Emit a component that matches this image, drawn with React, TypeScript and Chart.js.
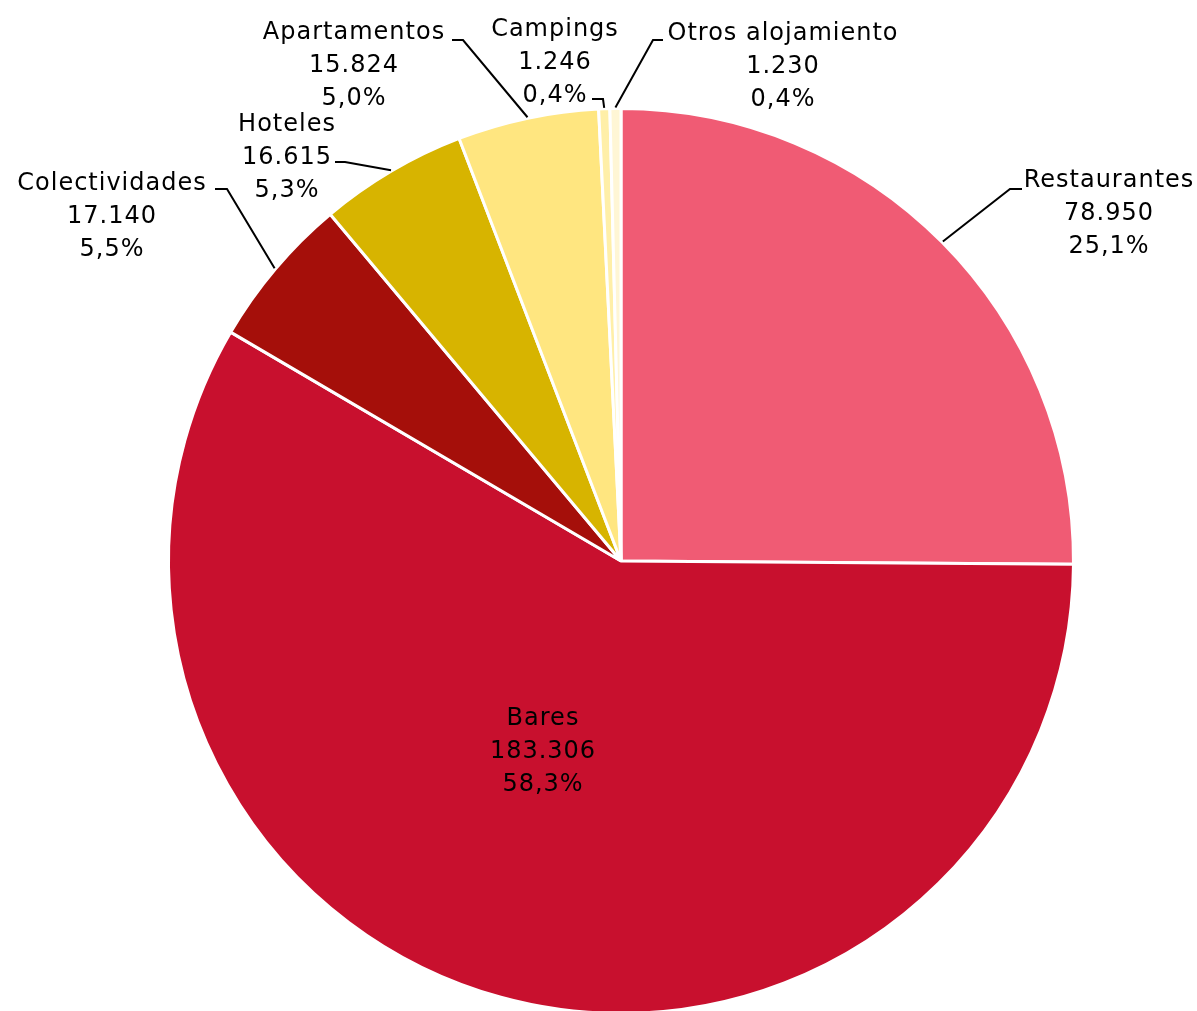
import React, { useEffect, useRef } from "react";
import { Chart, registerables } from "chart.js";

Chart.register(...registerables);

const categories = [
  "Restaurantes",
  "Bares",
  "Colectividades",
  "Hoteles",
  "Apartamentos",
  "Campings",
  "Otros alojamiento",
];
const valueLabels = ["78.950", "183.306", "17.140", "16.615", "15.824", "1.246", "1.230"];
const values = [78950, 183306, 17140, 16615, 15824, 1246, 1230];
const percentLabels = ["25,1%", "58,3%", "5,5%", "5,3%", "5,0%", "0,4%", "0,4%"];
const colors = ["#F05B74", "#C8102E", "#A50F0A", "#D7B400", "#FFE680", "#FFEFA8", "#FFF6D5"];

// Label layout (offsets from the pie centre, in px): text centre x, first-line y,
// leader elbow and leader end. No leader = label drawn inside the slice.
type Layout = { tx: number; ty: number; elbow?: [number, number]; end?: [number, number] };
const layouts: Layout[] = [
  { tx: 488, ty: -380, elbow: [389, -372], end: [401, -372] },
  { tx: -78, ty: 158 },
  { tx: -509, ty: -377, elbow: [-394, -372], end: [-406, -372] },
  { tx: -334, ty: -436, elbow: [-276, -399], end: [-286, -399] },
  { tx: -267, ty: -528, elbow: [-158, -521], end: [-169, -521] },
  { tx: -66, ty: -531, elbow: [-18, -462], end: [-29, -462] },
  { tx: 162, ty: -527, elbow: [32, -521], end: [42, -521] },
];

const LINE_H = 33;
const FONT = '24px "DejaVu Sans"';

const labelPlugin = {
  id: "pieLabels",
  afterDatasetsDraw(chart: any) {
    const ctx = chart.ctx;
    const meta = chart.getDatasetMeta(0);
    ctx.save();
    ctx.font = FONT;
    try {
      ctx.letterSpacing = "1px";
    } catch (e) {}
    ctx.fillStyle = "#000";
    ctx.textAlign = "center";
    ctx.textBaseline = "middle";
    meta.data.forEach((arc: any, i: number) => {
      const L = layouts[i];
      const cx = arc.x;
      const cy = arc.y;
      if (L.elbow && L.end) {
        const mid = (arc.startAngle + arc.endAngle) / 2;
        const r = arc.outerRadius + 1;
        const sx = cx + Math.cos(mid) * r;
        const sy = cy + Math.sin(mid) * r;
        ctx.beginPath();
        ctx.strokeStyle = "#000";
        ctx.lineWidth = 2;
        ctx.moveTo(sx, sy);
        ctx.lineTo(cx + L.elbow[0], cy + L.elbow[1]);
        ctx.lineTo(cx + L.end[0], cy + L.end[1]);
        ctx.stroke();
      }
      const lines = [categories[i], valueLabels[i], percentLabels[i]];
      lines.forEach((t, k) => {
        ctx.fillText(t, cx + L.tx, cy + L.ty + k * LINE_H);
      });
    });
    ctx.restore();
  },
};

export default function App() {
  const ref = useRef<HTMLCanvasElement | null>(null);
  useEffect(() => {
    if (!ref.current) return;
    const chart = new Chart(ref.current, {
      type: "pie",
      data: {
        labels: categories,
        datasets: [
          {
            data: values,
            backgroundColor: colors,
            borderColor: "#ffffff",
            borderWidth: 3,
          },
        ],
      },
      options: {
        animation: false,
        responsive: true,
        maintainAspectRatio: false,
        layout: { padding: { left: 167, right: 122, top: 107, bottom: 1 } },
        plugins: {
          legend: { display: false },
          tooltip: { enabled: false },
        },
      },
      plugins: [labelPlugin],
    });
    return () => chart.destroy();
  }, []);
  return (
    <div style={{ position: "fixed", left: 0, top: 0, width: 1197, height: 1016, background: "#fff" }}>
      <canvas ref={ref} />
    </div>
  );
}
